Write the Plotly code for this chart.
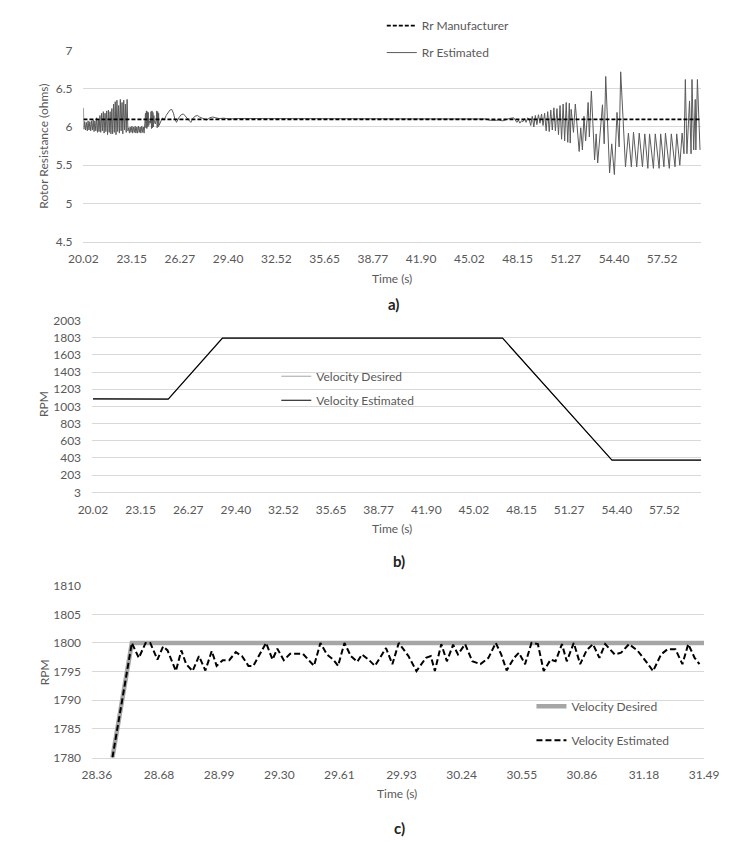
import plotly.graph_objects as go

# ---- a) rotor resistance ----
rr_time = [
    20.02, 20.05, 20.10, 20.16, 20.21, 20.27, 20.32, 20.38, 20.43, 20.49, 20.54, 20.60, 20.65, 20.71, 20.76, 20.82, 20.87, 20.93, 20.98,
    21.03, 21.09, 21.14, 21.20, 21.25, 21.31, 21.36, 21.42, 21.47, 21.53, 21.58, 21.64, 21.69, 21.75, 21.80, 21.86,
    21.91, 21.97, 22.02, 22.08, 22.13, 22.19, 22.24, 22.30, 22.35, 22.41, 22.46, 22.52, 22.57, 22.63, 22.68, 22.74, 22.79, 22.85, 22.90,
    22.95, 23.00, 23.05, 23.10, 23.16, 23.21, 23.26, 23.32, 23.37, 23.42, 23.48, 23.53, 23.58, 23.64, 23.69, 23.74, 23.80, 23.85, 23.90, 23.95,
    24.00, 24.04, 24.07, 24.10, 24.13, 24.16, 24.19, 24.22, 24.25, 24.30, 24.36, 24.40, 24.43, 24.46, 24.49, 24.52, 24.55, 24.58, 24.62, 24.68,
    24.74, 24.77, 24.80, 24.83, 24.86, 24.89, 24.92, 24.97,
    25.05, 25.15, 25.25, 25.38, 25.50, 25.62, 25.74, 25.85, 25.95, 26.05, 26.20, 26.35, 26.50, 26.65, 26.80, 26.98, 27.10, 27.25, 27.40, 27.55,
    27.70, 27.85, 28.00, 28.20, 28.40, 28.60, 28.80, 29.10, 29.50, 29.90, 30.30, 34.00, 38.00, 42.00, 46.10,
    46.30, 46.60, 46.90, 47.20, 47.40, 47.60, 47.90, 48.00, 48.10, 48.20, 48.30, 48.40, 48.50, 48.60, 48.70, 48.80, 48.90,
    49.00, 49.10, 49.20, 49.30, 49.40, 49.50, 49.60, 49.70, 49.80, 49.90, 50.00, 50.10, 50.20, 50.30, 50.40, 50.50, 50.60, 50.70, 50.80, 50.90,
    51.00, 51.10, 51.20, 51.30, 51.40, 51.50,
    51.56, 51.62, 51.77, 51.89, 52.14, 52.24, 52.35, 52.45, 52.56, 52.72, 52.80, 52.93, 53.14, 53.24, 53.34, 53.65, 53.76, 53.86, 54.11, 54.25,
    54.42, 54.59, 54.73, 54.83, 55.14, 55.33, 55.52, 55.66, 55.87, 56.03, 56.24, 56.39, 56.59, 56.70, 56.95, 57.07, 57.32, 57.42, 57.63, 57.73,
    57.98, 58.11, 58.35, 58.46, 58.66, 58.81, 58.93, 59.02, 59.12, 59.29, 59.39, 59.45, 59.56, 59.66, 59.70, 59.80, 59.97,
]
rr_estimated = [
    6.25, 5.97, 6.07, 5.96, 6.06, 5.95, 6.08, 5.96, 6.07, 5.95, 6.08, 5.96, 6.09, 5.94, 6.08, 5.95, 6.12, 5.93, 6.10,
    5.94, 6.15, 5.93, 6.18, 5.95, 6.20, 5.92, 6.18, 5.94, 6.21, 5.90, 6.22, 5.93, 6.20, 5.91, 6.24,
    5.91, 6.30, 5.93, 6.33, 5.90, 6.35, 5.94, 6.28, 5.92, 6.36, 5.95, 6.32, 5.91, 6.35, 5.96, 6.30, 5.93, 6.36, 5.95,
    5.99, 5.92, 6.00, 5.93, 6.01, 5.92, 6.00, 5.93, 6.01, 5.92, 6.00, 5.92, 6.01, 5.93, 6.00, 5.92, 6.01, 5.93, 6.00, 5.92,
    6.05, 6.18, 5.99, 6.21, 5.98, 6.20, 6.00, 6.19, 6.02, 6.08, 6.05, 6.20, 5.98, 6.21, 5.99, 6.19, 6.00, 6.15, 6.06, 6.04,
    6.10, 6.21, 5.99, 6.20, 6.00, 6.18, 6.02, 6.05,
    6.08, 6.12, 6.09, 6.15, 6.18, 6.22, 6.23, 6.18, 6.10, 6.06, 6.12, 6.16, 6.17, 6.14, 6.10, 6.06, 6.11, 6.14, 6.15, 6.13,
    6.12, 6.10, 6.09, 6.12, 6.13, 6.12, 6.11, 6.115, 6.105, 6.11, 6.11, 6.11, 6.11, 6.11, 6.105,
    6.09, 6.085, 6.09, 6.08, 6.095, 6.11, 6.12, 6.08, 6.06, 6.09, 6.05, 6.08, 6.07, 6.11, 6.06, 6.12, 6.10,
    6.02, 6.14, 6.00, 6.15, 6.03, 6.16, 6.05, 6.17, 6.02, 6.18, 5.95, 6.20, 5.94, 6.22, 5.96, 6.25, 5.95, 6.24, 5.90, 6.28,
    5.84, 6.30, 5.82, 6.32, 5.80, 6.31,
    5.79, 6.23, 5.93, 6.30, 5.68, 5.99, 5.70, 6.14, 5.82, 6.32, 5.87, 6.47, 5.57, 5.91, 5.53, 6.29, 5.78, 6.66, 5.40, 5.78,
    5.38, 6.19, 5.74, 6.72, 5.48, 5.92, 5.48, 5.93, 5.48, 5.92, 5.48, 5.91, 5.46, 5.91, 5.46, 5.91, 5.46, 5.91, 5.48, 5.92,
    5.46, 5.91, 5.48, 5.91, 5.50, 5.92, 5.65, 6.62, 5.65, 6.34, 5.65, 6.62, 5.70, 6.36, 5.70, 6.62, 5.70,
]
rr_mfr_time = [20.02, 60.05]
rr_manufacturer = [6.10, 6.10]

# ---- b) velocity, full run ----
vb_time_desired = [20.02, 24.96, 28.49, 46.90, 54.06, 59.94]
vb_desired = [1090, 1090, 1800, 1800, 380, 380]
vb_time_estimated = [20.02, 24.96, 28.52, 46.90, 54.08, 59.94]
vb_estimated = [1091, 1089, 1798, 1797, 378, 379]

# ---- c) velocity, zoomed ----
vc_time_desired = [28.44, 28.54, 31.49]
vc_desired = [1780, 1800, 1800]
vc_time_estimated = [
    28.44, 28.540, 28.576, 28.611, 28.635, 28.672, 28.701, 28.724, 28.767, 28.795, 28.820, 28.853, 28.886, 28.919, 28.952,
    28.977, 29.009, 29.042, 29.076, 29.108, 29.141, 29.166, 29.232, 29.265, 29.290, 29.323, 29.356, 29.422, 29.479, 29.512,
    29.545, 29.578, 29.603, 29.636, 29.669, 29.702, 29.726, 29.760, 29.793, 29.850, 29.883, 29.916, 29.966, 30.007, 30.056,
    30.081, 30.102, 30.135, 30.164, 30.196, 30.221, 30.258, 30.295, 30.337, 30.378, 30.416, 30.444, 30.472, 30.510, 30.535,
    30.567, 30.600, 30.633, 30.663, 30.699, 30.724, 30.757, 30.782, 30.818, 30.851, 30.884, 30.917, 30.950, 30.980, 31.029,
    31.062, 31.103, 31.148, 31.190, 31.227, 31.268, 31.301, 31.342, 31.378, 31.408, 31.441, 31.466,
]
vc_estimated = [
    1780, 1800, 1797.4, 1800, 1800, 1797.1, 1799.4, 1798.7, 1795.1, 1798.7, 1796.3, 1795.1, 1797.7, 1795.2, 1798.6,
    1796.0, 1797.0, 1797.0, 1798.4, 1797.7, 1796.0, 1796.0, 1800, 1797.1, 1799.0, 1797.0, 1798.1, 1798.1, 1796.0, 1800,
    1798.0, 1797.1, 1796.0, 1800, 1797.7, 1796.7, 1798.0, 1797.1, 1796.0, 1799.1, 1796.3, 1800, 1797.7, 1795.1, 1797.4,
    1797.7, 1795.1, 1799.8, 1796.8, 1799.7, 1798.0, 1799.8, 1796.8, 1796.3, 1797.4, 1800, 1798.0, 1795.2, 1797.4, 1798.3,
    1796.3, 1800, 1799.8, 1795.1, 1797.1, 1796.8, 1799.8, 1796.8, 1800, 1796.3, 1798.7, 1799.8, 1797.4, 1799.8, 1798.0,
    1798.3, 1799.8, 1798.6, 1796.8, 1795.1, 1798.0, 1798.9, 1798.9, 1796.3, 1799.8, 1797.4, 1796.3,
]

# tick labels
ab_ticks = [20.02, 23.15, 26.27, 29.40, 32.52, 35.65, 38.77, 41.90, 45.02, 48.15, 51.27, 54.40, 57.52]
c_ticks = [28.36, 28.68, 28.99, 29.30, 29.61, 29.93, 30.24, 30.55, 30.86, 31.18, 31.49]
a_yticks = [4.5, 5, 5.5, 6, 6.5, 7]
b_yticks = [3, 203, 403, 603, 803, 1003, 1203, 1403, 1603, 1803, 2003]
c_yticks = [1780, 1785, 1790, 1795, 1800, 1805, 1810]

W, H = 738, 842
FONT = "Lato, 'Open Sans', sans-serif"
GRID = "#d9d9d9"
TXT = "#595959"


def fx(p):
    return p / W


def fy(p):
    return 1 - p / H


fig = go.Figure()

# a)
fig.add_trace(go.Scatter(x=rr_time, y=rr_estimated, mode="lines", name="Rr Estimated",
                         line=dict(color="#5a5a5a", width=1), xaxis="x", yaxis="y",
                         legend="legend", legendgroup="ae", legendrank=2))
fig.add_trace(go.Scatter(x=rr_mfr_time, y=rr_manufacturer, mode="lines", name="Rr Manufacturer",
                         line=dict(color="black", width=1.6, dash="4px,2px"), xaxis="x", yaxis="y",
                         legend="legend", legendgroup="am", legendrank=1))

# b)
fig.add_trace(go.Scatter(x=vb_time_desired, y=vb_desired, mode="lines", name="Velocity Desired",
                         line=dict(color="#a6a6a6", width=1), xaxis="x2", yaxis="y2",
                         legend="legend2", legendgroup="bd"))
fig.add_trace(go.Scatter(x=vb_time_estimated, y=vb_estimated, mode="lines", name="Velocity Estimated",
                         line=dict(color="black", width=1.2), xaxis="x2", yaxis="y2",
                         legend="legend2", legendgroup="be"))

# c)
fig.add_trace(go.Scatter(x=vc_time_desired, y=vc_desired, mode="lines", name="Velocity Desired",
                         line=dict(color="#a6a6a6", width=4.5), xaxis="x3", yaxis="y3",
                         legend="legend3", legendgroup="cd"))
fig.add_trace(go.Scatter(x=vc_time_estimated, y=vc_estimated, mode="lines", name="Velocity Estimated",
                         line=dict(color="black", width=2, dash="6px,3px"), xaxis="x3", yaxis="y3",
                         legend="legend3", legendgroup="ce"))

xcommon = dict(showgrid=False, zeroline=False, showline=True, linecolor=GRID, linewidth=1,
               ticks="", ticklabelstandoff=6, tickfont=dict(family=FONT, size=12, color=TXT))
ycommon = dict(showgrid=True, gridcolor=GRID, gridwidth=1, zeroline=False, showline=False,
               ticks="", ticklabelstandoff=10, tickfont=dict(family=FONT, size=12, color=TXT))

legcommon = dict(bgcolor="rgba(0,0,0,0)", font=dict(family=FONT, size=12, color=TXT),
                 xanchor="left", yanchor="top", traceorder="grouped", itemwidth=30)

fig.update_layout(
    width=W, height=H,
    margin=dict(l=0, r=0, t=0, b=0),
    paper_bgcolor="white", plot_bgcolor="white",
    font=dict(family=FONT, size=12, color=TXT),
    xaxis=dict(xcommon, domain=[fx(63), fx(707)], range=[20.02, 60.05], anchor="y",
               tickvals=ab_ticks, ticktext=[f"{t:.2f}" for t in ab_ticks]),
    yaxis=dict(ycommon, domain=[fy(230), fy(35)], range=[4.5, 7], anchor="x",
               tickvals=a_yticks, ticktext=[f"{t:g}" for t in a_yticks]),
    xaxis2=dict(xcommon, domain=[fx(72), fx(707)], range=[19.96, 59.94], anchor="y2",
                tickvals=ab_ticks, ticktext=[f"{t:.2f}" for t in ab_ticks]),
    yaxis2=dict(ycommon, domain=[fy(485), fy(310)], range=[3, 2003], anchor="x2",
                tickvals=b_yticks, ticktext=[str(t) for t in b_yticks]),
    xaxis3=dict(xcommon, domain=[fx(72), fx(710)], range=[28.335, 31.49], anchor="y3",
                tickvals=c_ticks, ticktext=[f"{t:.2f}" for t in c_ticks]),
    yaxis3=dict(ycommon, domain=[fy(755), fy(580)], range=[1780, 1810], anchor="x3",
                tickvals=c_yticks, ticktext=[str(t) for t in c_yticks]),
    legend=dict(legcommon, x=fx(374), y=fy(-5), tracegroupgap=8),
    legend2=dict(legcommon, x=fx(264), y=fy(352), tracegroupgap=5),
    legend3=dict(legcommon, x=fx(530), y=fy(688), tracegroupgap=15),
)

notes = [
    ("Time (s)", 385, 267, 12, TXT, 0),
    ("<b>a)</b>", 386, 293, 15, "#222222", 0),
    ("Time (s)", 385, 522, 12, TXT, 0),
    ("<b>b)</b>", 392, 555, 15, "#222222", 0),
    ("Time (s)", 390, 792, 12, TXT, 0),
    ("<b>c)</b>", 392, 827, 15, "#222222", 0),
    ("Rotor Resistance (ohms)", 22, 133, 12, TXT, -90),
    ("RPM", 22, 395, 12, TXT, -90),
    ("RPM", 22, 668, 12, TXT, -90),
]
for text, x, y, size, color, ang in notes:
    fig.add_annotation(text=text, x=fx(x), y=fy(y), xref="paper", yref="paper",
                       showarrow=False, textangle=ang, xanchor="center", yanchor="middle",
                       font=dict(family=FONT, size=size, color=color))

fig.write_html("out.html")
